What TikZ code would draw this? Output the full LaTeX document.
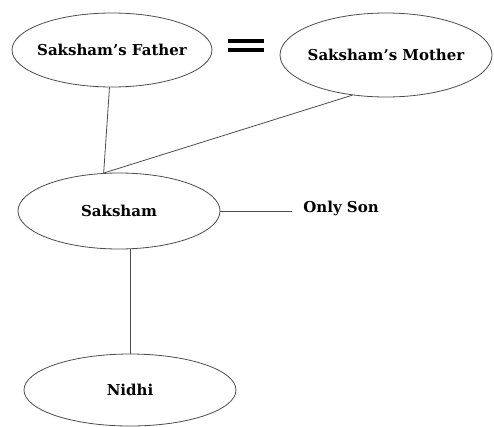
\documentclass[tikz,border=0pt]{standalone}
\usepackage{fontspec}
\setmainfont{DejaVu Serif}
\usetikzlibrary{shapes.geometric}

\begin{document}
\begin{tikzpicture}[x=1pt, y=-1pt, line width=0.8pt, draw=black!70,
    person/.style={draw, ellipse, inner xsep=-12pt, inner ysep=0pt, font=\bfseries\fontsize{15}{18}\selectfont}]
        \useasboundingbox (0, 0) rectangle (494, 426);
        \node[person, minimum width=200, minimum height=74] (father) at (112, 50) {Saksham's Father};
        \node[person, minimum width=212, minimum height=84] (mother) at (386, 55) {Saksham's Mother};
        \node[person, minimum width=202, minimum height=76] (saksham) at (119, 211) {Saksham};
        \node[person, minimum width=212, minimum height=72] (nidhi) at (130, 390) {Nidhi};
        \node[font=\bfseries\fontsize{15}{18}\selectfont, inner sep=0pt] (only) at (341, 208) {Only Son};
        \coordinate (eq) at (246, 45);
        \draw[line width=4pt, black] ([shift={(-18, -4)}]eq) -- ([shift={(18, -4)}]eq);
        \draw[line width=4pt, black] ([shift={(-18, 5)}]eq) -- ([shift={(18, 5)}]eq);
        \draw (father) -- (saksham.112);
        \draw (mother.230) -- (saksham.112);
        \draw (saksham.east) -- ([xshift=-11]saksham.east -| only.west);
        \draw (saksham.south -| nidhi.north) -- (nidhi.north);
      \end{tikzpicture}
\end{document}
